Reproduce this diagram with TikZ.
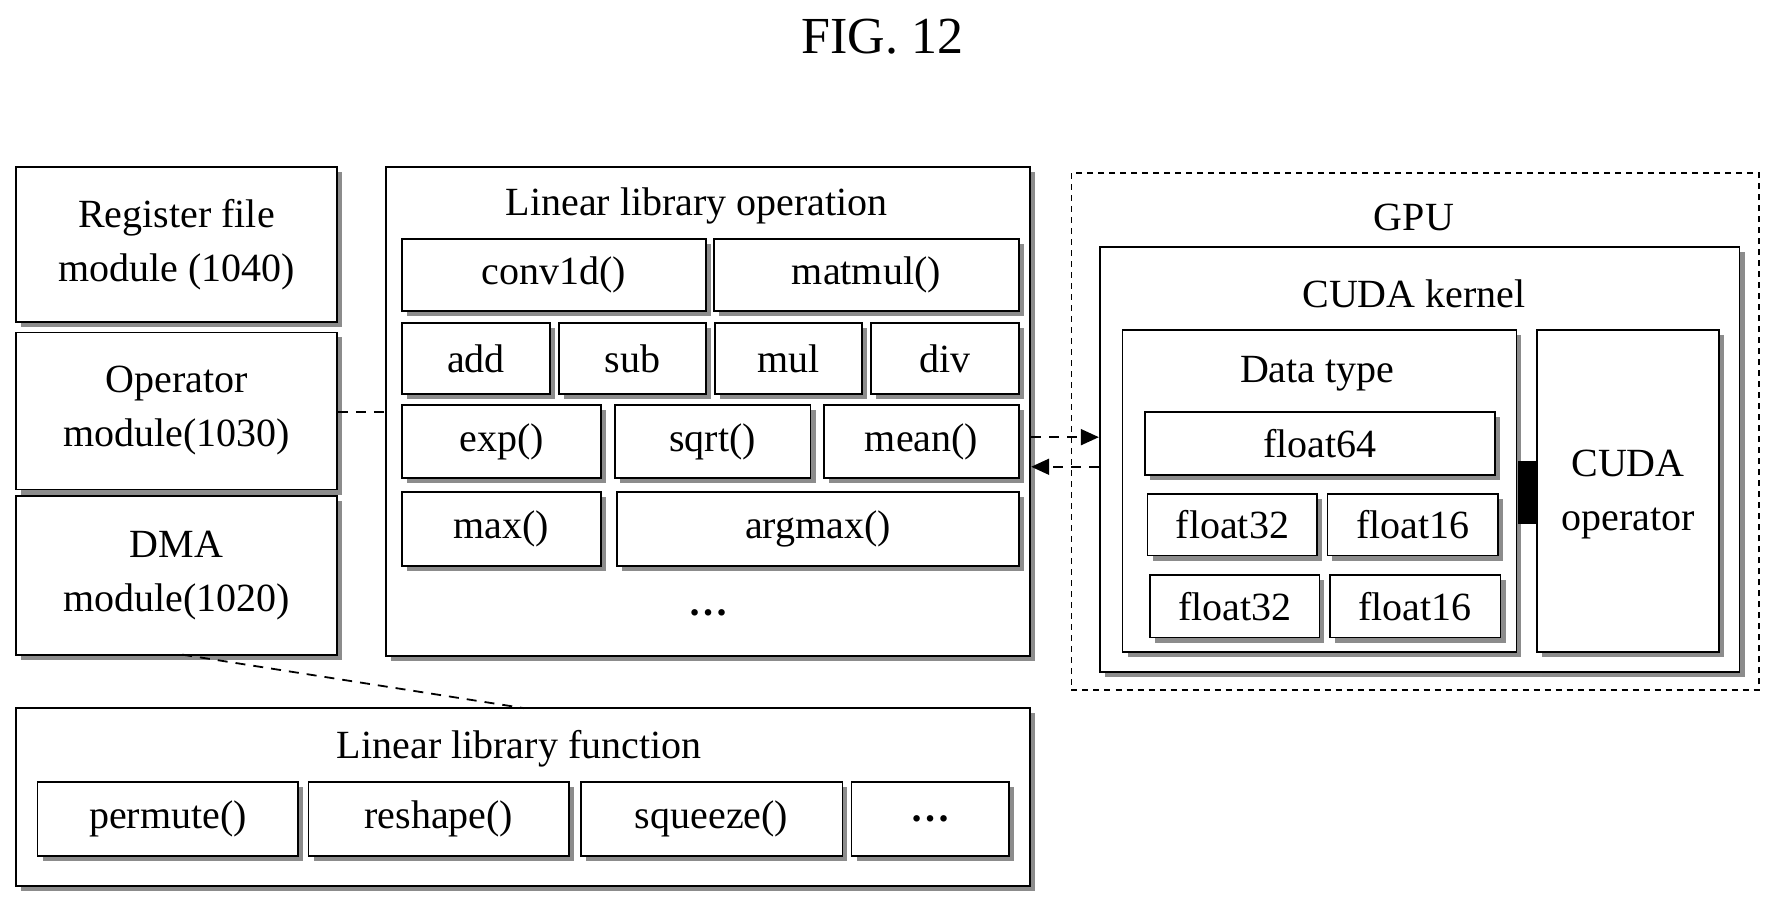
\documentclass[tikz,border=0pt]{standalone}
\usepackage{fontspec}
\setmainfont{Liberation Serif}
\usetikzlibrary{shadows,arrows.meta}
\newcommand\bx[7][]{\node[box,#1,minimum width={(#5-#3)*0.02cm},minimum height={(#6-#4)*0.02cm}] (#2) at ({(#3+#5)/2},{(#4+#6)/2}) {#7};}
\begin{document}
\begin{tikzpicture}[x=0.02cm,y=-0.02cm,
  box/.style={draw,line width=0.9pt,fill=white,inner sep=0pt,align=center,
    drop shadow={shadow xshift=2.5pt,shadow yshift=-2.5pt,fill=black!45,opacity=1}},
  cont/.style={draw,line width=0.9pt,fill=white,inner sep=0pt,
    drop shadow={shadow xshift=2.5pt,shadow yshift=-2.5pt,fill=black!45,opacity=1}},
  lbl/.style={inner sep=0pt,align=center},
  dsh/.style={dashed,line width=0.9pt,dash pattern=on 5pt off 4pt},
  every node/.append style={font=\fontsize{20}{27}\selectfont}]
\useasboundingbox (0,0) rectangle (1560,797);
\node[lbl,font=\fontsize{26}{30}\selectfont] (fig) at (775,32) {FIG. 12};
% left modules
\bx{reg}{14}{147}{296}{283}{Register file\\module (1040)}
\bx{opm}{14}{292}{296}{430}{Operator\\module(1030)}
\bx{dma}{14}{436}{296}{575}{DMA\\module(1020)}
% linear library operation
\bx[cont]{llo}{339}{147}{905}{576}{}
\node[lbl] (llot) at (612,181) {Linear library operation};
\bx{conv}{353}{210}{620}{273}{conv1d()}
\bx{matmul}{627}{210}{895}{273}{matmul()}
\bx{add}{353}{284}{483}{346}{add}
\bx{sub}{491}{284}{620}{346}{sub}
\bx{mul}{628}{284}{757}{346}{mul}
\bx{div}{765}{284}{895}{346}{div}
\bx{exp}{353}{356}{528}{420}{exp()}
\bx{sqrt}{540}{356}{712}{420}{sqrt()}
\bx{mean}{724}{356}{895}{420}{mean()}
\bx{max}{353}{432}{528}{497}{max()}
\bx{argmax}{542}{432}{895}{497}{argmax()}
\node[lbl] (llodots) at (622,538) {\textbf{\dots}};
% GPU
\draw[dsh,line width=0.7pt,dash pattern=on 3pt off 2.5pt] (941,152) rectangle (1545,606);
\coordinate (gpuL) at (941,384);
\node[lbl] (gpu) at (1242,191) {GPU};
\bx[cont]{ck}{966}{217}{1528}{590}{}
\node[lbl] (ckt) at (1242,258) {CUDA kernel};
\bx[cont]{dt}{986}{290}{1332}{573}{}
\node[lbl] (dtt) at (1157,328) {Data type};
\bx{f64}{1006}{362}{1313}{417}{float64}
\bx{f32a}{1008}{434}{1157}{488}{float32}
\bx{f16a}{1166}{434}{1316}{488}{float16}
\bx{f32b}{1010}{505}{1159}{560}{float32}
\bx{f16b}{1168}{505}{1318}{560}{float16}
\bx{cop}{1350}{290}{1510}{573}{}
\node[lbl] (copt) at (1430,434) {CUDA\\operator};
\fill (1333,405) rectangle (1350,460);
% linear library function
\bx[cont]{llf}{14}{622}{905}{778}{}
\node[lbl] (llft) at (456,658) {Linear library function};
\bx{perm}{33}{687}{262}{752}{permute()}
\bx{resh}{271}{687}{500}{752}{reshape()}
\bx{sque}{510}{687}{740}{752}{squeeze()}
\bx{fdots}{748}{687}{886}{752}{\textbf{\dots}}
% connectors
\draw[dsh] (opm.east |- 0,362) -- (llo.west |- 0,362);
\draw[dsh] (160,575) -- (460,622);
\draw[dsh,-{Triangle[length=9pt,width=8pt]}] (llo.east |- 0,384) -- (ck.west |- 0,384);
\draw[dsh,-{Triangle[length=9pt,width=8pt]}] (ck.west |- 0,410) -- (llo.east |- 0,410);
\end{tikzpicture}
\end{document}
